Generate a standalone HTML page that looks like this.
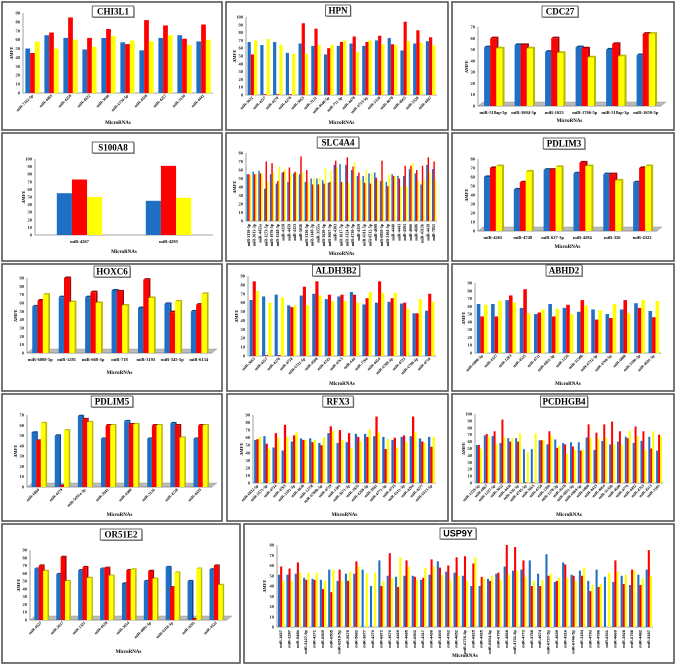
<!DOCTYPE html>
<html><head><meta charset="utf-8">
<style>
html,body{margin:0;padding:0;background:#fff;}
svg{display:block;font-family:"Liberation Serif",serif;}
</style></head>
<body>
<svg id="fig" width="676" height="665" viewBox="0 0 676 665"></svg>
<script>
// ---- data ----
const chi_cats=["miR-7162-5p","miR-4483","miR-4258","miR-4522","miR-3646","miR-6734-5p","miR-4328","miR-4257","miR-3120","miR-4441"];
const chi_blue=[50,65,62,49,62,57,48,62,65,58];
const chi_red=[45,68,85,62,72,55,82,76,61,77];
const chi_yel=[58,50,60,52,64,59,58,65,54,60];

const hpn_cats=["miR-3622","miR-4257","miR-4270","miR-4278","miR-3663","miR-3121","miR-4640-5p","miR-711-3p","miR-4478","miR-4753-5p","miR-5318","miR-4678","miR-4665","miR-5320","miR-4497"];
const hpn_blue=[68,64,68,54,66,63,52,63,66,63,70,73,57,66,69];
const hpn_red=[52,1,1,1,92,85,60,68,75,68,76,65,94,83,74];
const hpn_yel=[70,72,64,53,53,64,64,70,55,70,65,64,69,67,64];

const cdc_cats=["miR-518ap-5p","miR-3604-3p","miR-1653","miR-1766-5p","miR-518ap-3p","miR-1650-5p"];
const cdc_blue=[52,54,48,52,50,45];
const cdc_red=[60,54,60,51,55,64];
const cdc_yel=[51,51,47,43,44,64];

const s100_cats=["miR-4267","miR-4295"];
const s100_blue=[55,45];
const s100_red=[73,91];
const s100_yel=[50,49];

const slc_cats=["miR-3130-3p","miR-3613-3p","miR-4451a","miR-1273-5p","miR-1976-5p","miR-1248-3p","miR-4318","miR-4459","miR-4313","miR-5036","miR-3136-5p","miR-3148-3p","miR-3155a","miR-3620-5p","miR-3667-3p","miR-4303","miR-3617-5p","miR-3124-5p","miR-4730-5p","miR-4319","miR-4311-5p","miR-6512-5p","miR-4698","miR-6859-5p","miR-3164-5p","miR-4440","miR-4443","miR-4503","miR-4666","miR-4686","miR-4313b","miR-4439","miR-7851"];
const slc_blue=[55,58,59,38,55,44,57,46,56,55,46,50,50,48,45,66,67,66,60,53,53,56,57,47,46,55,53,53,61,56,43,66,61];
const slc_red=[55,55,56,70,68,47,58,63,58,76,60,43,43,44,46,71,46,75,64,57,45,44,51,71,41,53,50,65,65,60,65,75,70];
const slc_yel=[54,56,56,46,57,64,61,56,57,57,46,51,51,62,59,63,45,45,69,49,60,56,48,47,55,53,41,41,68,47,48,56,48];

const pdl3_cats=["miR-4265","miR-4748","miR-627-3p","miR-4294","miR-326","miR-4322"];
const pdl3_blue=[60,46,68,64,63,54];
const pdl3_red=[70,54,68,76,63,70];
const pdl3_yel=[72,66,71,72,56,72];

const hox_cats=["miR-6808-5p","miR-1281","miR-668-5p","miR-718","miR-3195","miR-345-5p","miR-6134"];
const hox_blue=[56,67,67,75,54,59,50];
const hox_red=[63,90,73,74,88,49,58];
const hox_yel=[70,61,60,57,66,62,71];

const ald_cats=["miR-3665","miR-4257","miR-4278","miR-4738","miR-6721-5p","miR-4508","miR-4745","miR-4763","miR-644","miR-7704","miR-4454","miR-6789-5p","miR-4725","miR-6798-5p","miR-4710"];
const ald_blue=[63,67,69,57,68,70,64,67,72,58,60,61,59,48,51];
const ald_red=[84,1,1,55,78,84,69,69,69,65,84,65,60,48,70];
const ald_yel=[73,60,66,57,57,68,62,62,60,72,71,71,53,64,61];

const abh_cats=["miR-6808-5p","miR-4327","miR-1283","miR-4525","miR-4711","miR-6851-3p","miR-1226","miR-3150b","miR-6722-3p","miR-4760-5p","miR-6080","miR-3186-3p","miR-4691-5p"];
const abh_blue=[63,63,68,58,50,63,58,53,56,50,56,64,54];
const abh_red=[47,47,74,82,52,47,62,68,43,45,68,58,46];
const abh_yel=[62,67,65,51,56,57,50,61,55,63,51,68,67];

const pd5_cats=["miR-6860","miR-4279","miR-5691a-3p","miR-3941","miR-4300","miR-3136","miR-4728","miR-4429"];
const pd5_blue=[53,50,69,47,64,47,62,47];
const pd5_red=[45,1,66,60,61,60,60,60];
const pd5_yel=[62,55,63,60,61,60,48,60];

const rfx_cats=["miR-6832-5p","miR-5571-3p","miR-4734","miR-4783","miR-3191-3p","miR-4638","miR-1273f","miR-6780b-5p","miR-4729","miR-1301","miR-3671-3p","miR-1825","miR-4268-3p","miR-2681","miR-4771-3p","miR-4735","miR-6511-3p","miR-4294","miR-4277","miR-6513-5p"];
const rfx_blue=[57,62,47,43,55,59,59,53,66,53,54,65,65,62,61,57,61,62,59,61];
const rfx_red=[58,52,66,77,63,57,54,50,75,70,66,61,61,88,45,60,63,88,55,48];
const rfx_yel=[61,45,60,61,67,57,57,60,69,57,46,55,71,67,58,47,54,67,53,61];

const pcd_cats=["miR-1229-5p","miR-6867","miR-1227-5p","miR-3652","miR-4430","miR-636-5p","miR-4745-5p","miR-3665","miR-4758","miR-1306","miR-1178-3p","miR-4518","miR-6831-5p","miR-6869-5p","miR-6808","miR-4433","miR-4664","miR-3135b","miR-4690","miR-4776","miR-4492","miR-4763","miR-4513","miR-3185"];
const pcd_blue=[55,69,68,58,65,65,49,49,62,56,63,58,59,59,66,48,61,56,60,67,58,61,67,47];
const pcd_red=[55,71,75,92,60,60,1,1,62,75,51,56,53,47,85,73,85,89,75,65,82,75,50,70];
const pcd_yel=[50,67,57,66,65,72,45,72,62,69,54,42,48,48,65,65,66,56,56,76,68,48,75,68];

const or_cats=["miR-4527","miR-5017","miR-1321","miR-4538","miR-3654","miR-4801-5p","miR-6510-5p","miR-4291","miR-4322"];
const or_blue=[66,59,64,66,47,50,68,50,65];
const or_red=[70,81,68,67,64,63,42,1,70];
const or_yel=[63,50,54,57,65,53,61,66,45];

const usp_cats=["miR-1827","miR-1287","miR-548b","miR-3127-5p","miR-4271","miR-6509","miR-6505","miR-6519-5p","miR-5675","miR-5682","miR-3677","miR-4270","miR-6872","miR-3670","miR-4429","miR-4685","miR-6502","miR-4317","miR-4436","miR-4500","miR-4762","miR-4652","miR-6776-5p","miR-6825","miR-4425","miR-6504-5p","miR-6790","miR-4668","miR-4731-5p","miR-4773","miR-4758","miR-4674","miR-6727-5p","miR-4659","miR-4316","miR-6746-5p","miR-3154","miR-4793","miR-4786","miR-6511","miR-4669","miR-3928","miR-6758","miR-4482","miR-5187"];
const usp_blue=[51,51,52,48,47,46,56,45,52,52,56,40,65,50,49,50,50,46,51,64,54,53,50,40,40,47,52,59,55,56,65,52,71,44,63,51,55,45,56,49,44,50,41,51,56];
const usp_red=[59,57,63,46,46,37,34,56,45,64,0,0,40,72,39,65,49,48,66,58,60,68,69,62,49,45,53,80,78,65,40,40,50,45,61,50,50,35,39,0,65,42,56,41,75];
const usp_yel=[45,45,53,53,53,45,56,45,54,59,52,53,45,48,68,59,46,58,59,51,46,50,45,68,48,50,46,51,55,49,45,46,52,48,48,45,58,41,42,53,54,51,55,47,50];

const NS="http://www.w3.org/2000/svg";
const svg=document.getElementById('fig');
function mk(tag,attrs,parent){const e=document.createElementNS(NS,tag);for(const k in attrs)e.setAttribute(k,attrs[k]);(parent||svg).appendChild(e);return e;}

const panels=[
 {name:"chi3l1",title:"CHI3L1",box:[2,2,220,128],tx:113,ty:11,pl:23,pt:13,pr:213,pb:93,ymax:90,step:10,rot:45,xt:124,cats:chi_cats,b:chi_blue,r:chi_red,y:chi_yel,d3:false},
 {name:"hpn",title:"HPN",box:[226,2,222,128],tx:338,ty:10,pl:246,pt:17,pr:437,pb:95,ymax:100,step:10,rot:45,xt:124,cats:hpn_cats,b:hpn_blue,r:hpn_red,y:hpn_yel,d3:false},
 {name:"cdc27",title:"CDC27",box:[452,2,222,128],tx:560,ty:11,pl:478,pt:27,pr:661,pb:106,ymax:70,step:10,rot:0,xt:122,cats:cdc_cats,b:cdc_blue,r:cdc_red,y:cdc_yel,d3:true},
 {name:"s100a8",title:"S100A8",box:[2,133,220,128],tx:113,ty:147,pl:35,pt:159,pr:213,pb:235,ymax:100,step:10,rot:0,xt:253,cats:s100_cats,b:s100_blue,r:s100_red,y:s100_yel,d3:false,wide:true},
 {name:"slc4a4",title:"SLC4A4",box:[226,133,222,128],tx:338,ty:142,pl:246,pt:153,pr:437,pb:221,ymax:80,step:10,rot:90,xt:255,cats:slc_cats,b:slc_blue,r:slc_red,y:slc_yel,d3:false},
 {name:"pdlim3",title:"PDLIM3",box:[452,133,222,128],tx:564,ty:143,pl:478,pt:159,pr:657,pb:231,ymax:80,step:10,rot:0,xt:248,cats:pdl3_cats,b:pdl3_blue,r:pdl3_red,y:pdl3_yel,d3:true},
 {name:"hoxc6",title:"HOXC6",box:[2,264,220,127],tx:112,ty:271,pl:27,pt:278,pr:212,pb:353,ymax:90,step:10,rot:0,xt:374,cats:hox_cats,b:hox_blue,r:hox_red,y:hox_yel,d3:true},
 {name:"aldh3b2",title:"ALDH3B2",box:[227,264,221,127],tx:336,ty:270,pl:248,pt:276,pr:436,pb:356,ymax:90,step:10,rot:45,xt:385,cats:ald_cats,b:ald_blue,r:ald_red,y:ald_yel,d3:false},
 {name:"abhd2",title:"ABHD2",box:[452,264,222,127],tx:564,ty:270,pl:475,pt:283,pr:661,pb:353,ymax:90,step:10,rot:45,xt:385,cats:abh_cats,b:abh_blue,r:abh_red,y:abh_yel,d3:false},
 {name:"pdlim5",title:"PDLIM5",box:[2,394,220,127],tx:112,ty:401,pl:27,pt:415,pr:212,pb:487,ymax:70,step:10,rot:45,xt:516,cats:pd5_cats,b:pd5_blue,r:pd5_red,y:pd5_yel,d3:true},
 {name:"rfx3",title:"RFX3",box:[227,394,221,127],tx:338,ty:401,pl:253,pt:415,pr:436,pb:483,ymax:90,step:10,rot:45,xt:516,cats:rfx_cats,b:rfx_blue,r:rfx_red,y:rfx_yel,d3:false},
 {name:"pcdhgb4",title:"PCDHGB4",box:[452,394,222,127],tx:564,ty:401,pl:475,pt:414,pr:663,pb:483,ymax:100,step:10,rot:45,xt:516,cats:pcd_cats,b:pcd_blue,r:pcd_red,y:pcd_yel,d3:false},
 {name:"or51e2",title:"OR51E2",box:[2,524,238,139],tx:121,ty:534,pl:30,pt:550,pr:227,pb:620,ymax:90,step:10,rot:45,xt:653,cats:or_cats,b:or_blue,r:or_red,y:or_yel,d3:true},
 {name:"usp9y",title:"USP9Y",box:[244,524,430,139],tx:458,ty:533,pl:277,pt:545,pr:653,pb:627,ymax:80,step:10,rot:90,xt:657,cats:usp_cats,b:usp_blue,r:usp_red,y:usp_yel,d3:false,sans:true}
];

const COLS=[["#1f6fc4","#0d4a8f"],["#ff0000","#a80000"],["#ffff00","#b8b800"]];

panels.forEach(p=>{
  const g=mk('g',{});
  
  
  const [bx,by,bw,bh]=p.box;
  const border=mk('rect',{x:bx,y:by,width:bw,height:bh,fill:'#fff',stroke:'#555','stroke-width':1.6},g);
  
  
  const n=p.cats.length;
  const yS=v=>p.pb-(v/p.ymax)*(p.pb-p.pt);
  const gw=(p.pr-p.pl)/n;
  const bwid=p.wide?gw*0.17:(p.d3?gw*0.2:gw*0.25);
  const dep=p.d3?Math.min(4,gw*0.07):0;
  // floor / axes
  if(p.d3){
    const fl=mk('polygon',{points:`${p.pl},${p.pb} ${p.pr},${p.pb} ${p.pr+5},${p.pb-4} ${p.pl+5},${p.pb-4}`,fill:'#bbb',stroke:'#999','stroke-width':0.5},g);
    
    
  }
  const ax=mk('path',{d:`M${p.pl} ${p.pt}V${p.pb}H${p.pr}`,fill:'none',stroke:'#888','stroke-width':0.8},g);
  
  
  for(let v=0;v<=p.ymax;v+=p.step){
    const t=mk('text',{x:p.pl-3,y:yS(v)+1.5,'font-size':4.5,'text-anchor':'end',fill:'#222','font-weight':'bold'},g);
    t.textContent=v;
    
    
  }
  const yt=mk('text',{x:0,y:0,'font-size':4.5,'font-weight':'bold','text-anchor':'middle',transform:`translate(${p.pl-(p.sans?11:10)},${(p.pt+p.pb)/2}) rotate(-90)`},g);
  yt.textContent='ΔMFE';
  
  
  const series=[p.b,p.r,p.y];
  for(let i=0;i<n;i++){
    const cx=p.pl+gw*(i+0.5);
    series.forEach((arr,s)=>{
      const x=cx+(s-1.5)*bwid;
      const top=yS(arr[i]);
      const h=p.pb-top;
      if(h<=0.2)return;
      if(dep>0){
        const side=mk('polygon',{points:`${x+bwid},${top} ${x+bwid+dep},${top-dep*0.8} ${x+bwid+dep},${p.pb-dep*0.8} ${x+bwid},${p.pb}`,fill:COLS[s][1]},g);
        
        
        const tp=mk('polygon',{points:`${x},${top} ${x+dep},${top-dep*0.8} ${x+bwid+dep},${top-dep*0.8} ${x+bwid},${top}`,fill:COLS[s][1]},g);
        
        
      }
      const r=mk('rect',{x:x,y:top,width:bwid,height:h,fill:COLS[s][0]},g);
      
      
    });
    let lab;
    if(p.rot===0){
      lab=mk('text',{x:cx,y:p.pb+8,'font-size':4.5,'font-weight':'bold','text-anchor':'middle'},g);
    }else{
      lab=mk('text',{x:0,y:0,'font-size':4,'font-weight':'bold','text-anchor':'end',transform:`translate(${cx+1},${p.pb+3}) rotate(${-p.rot})`},g);
    }
    if(p.sans)lab.setAttribute('font-family','"Liberation Sans",sans-serif');
    lab.textContent=p.cats[i];
    
    
  }
  const xt=mk('text',{x:(p.pl+p.pr)/2,y:p.xt,'font-size':5,'font-weight':'bold','text-anchor':'middle'},g);
  xt.textContent='MicroRNAs';
  
  
  // title box
  const tw=p.title.length*5.6+8;
  const sh=mk('rect',{x:p.tx-tw/2+1,y:p.ty-5+1,width:tw,height:11,fill:'#999'},g);
  
  
  const tb=mk('rect',{x:p.tx-tw/2,y:p.ty-5,width:tw,height:11,fill:'#fff',stroke:'#444','stroke-width':0.8},g);
  
  
  const tt=mk('text',{x:p.tx,y:p.ty+3.5,'font-size':9,'font-weight':'bold','text-anchor':'middle'},g);
  if(p.sans)tt.setAttribute('font-family','"Liberation Sans",sans-serif');
  tt.textContent=p.title;
  
  
});
</script>
</body></html>
